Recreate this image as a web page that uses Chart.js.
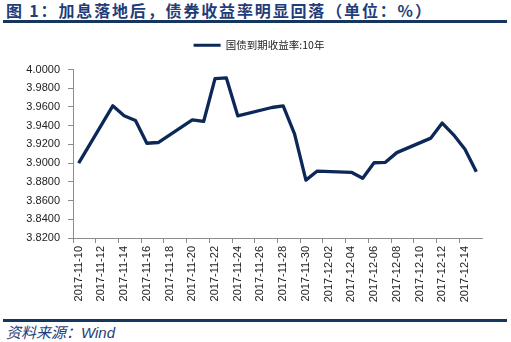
<!DOCTYPE html>
<html lang="zh">
<head>
<meta charset="UTF-8" />
<title>债券收益率</title>
<script src="https://cdn.jsdelivr.net/npm/chart.js@4.4.0/dist/chart.umd.min.js"></script>
<style>
  *{box-sizing:border-box;margin:0;padding:0}
  body{width:511px;height:342px;background:#fff;position:relative;overflow:hidden;font-family:'Liberation Sans',Arial,sans-serif}
  #title{position:absolute;left:6px;top:0px;font:bold 16px 'Noto Sans CJK SC',sans-serif;letter-spacing:1.85px;color:#1f3d7a;white-space:nowrap;line-height:20px}
  .rule{position:absolute;left:3px;width:504px;height:3px;background:#17365d}
  #src{position:absolute;left:6px;top:323px;font:italic 15px 'Noto Sans CJK SC',sans-serif;color:#1f3d7a;line-height:18px}
  #src span{font-family:'Liberation Sans',Arial,sans-serif;font-size:15px}
  #wrap{position:absolute;left:0;top:28px;width:511px;height:285px}
</style>
</head>
<body>
<div id="title">图 1：加息落地后，债券收益率明显回落（单位：%）</div>
<div class="rule" style="top:20px"></div>
<div id="wrap"><canvas id="c" width="511" height="285"></canvas></div>
<div class="rule" style="top:319px"></div>
<div id="src">资料来源：<span>Wind</span></div>
<script>
/* categories: every calendar day on the axis */
const days=['2017-11-10','2017-11-11','2017-11-12','2017-11-13','2017-11-14','2017-11-15','2017-11-16','2017-11-17','2017-11-18','2017-11-19',
  '2017-11-20','2017-11-21','2017-11-22','2017-11-23','2017-11-24','2017-11-25','2017-11-26','2017-11-27','2017-11-28','2017-11-29',
  '2017-11-30','2017-12-01','2017-12-02','2017-12-03','2017-12-04','2017-12-05','2017-12-06','2017-12-07','2017-12-08','2017-12-09',
  '2017-12-10','2017-12-11','2017-12-12','2017-12-13','2017-12-14','2017-12-15'];
/* trading days and 10y CGB yield (%) */
const tradeDates=['2017-11-10','2017-11-13','2017-11-14','2017-11-15','2017-11-16','2017-11-17','2017-11-20','2017-11-21','2017-11-22','2017-11-23',
  '2017-11-24','2017-11-27','2017-11-28','2017-11-29','2017-11-30','2017-12-01','2017-12-04','2017-12-05','2017-12-06','2017-12-07',
  '2017-12-08','2017-12-11','2017-12-12','2017-12-13','2017-12-14','2017-12-15'];
const yields=[3.9000,3.9612,3.9505,3.9456,3.9212,3.9220,3.9462,3.9445,3.9902,3.9910,
  3.9505,3.9594,3.9612,3.9312,3.8818,3.8915,3.8902,3.8838,3.9004,3.9008,
  3.9112,3.9267,3.9428,3.9302,3.9149,3.8908];
const yTicks=[3.82,3.84,3.86,3.88,3.90,3.92,3.94,3.96,3.98,4.00];
const seriesName='国债到期收益率:10年';

const navy='#0c2858',axisGrey='#8c8c8c';
// extra gap under the legend, and nudge it right
const legendFix={id:'legendFix',
  beforeInit(ch){const f=ch.legend.fit;ch.legend.fit=function(){f.call(this);this.height+=9}},
  afterLayout(ch){ch.legend.left+=18;ch.legend.right+=18}};

new Chart('c',{type:'line',
  data:{labels:days,datasets:[{label:seriesName,data:tradeDates.map((d,i)=>({x:d,y:yields[i]})),
    borderColor:navy,backgroundColor:navy,borderWidth:3.3,pointRadius:0,tension:0,borderJoinStyle:'round'}]},
  plugins:[legendFix],
  options:{responsive:false,animation:false,
    layout:{padding:{top:2,right:29,left:0,bottom:0}},
    plugins:{tooltip:{enabled:false},
      legend:{position:'top',labels:{boxWidth:27,boxHeight:3,padding:10,color:'#222',font:{family:"'Noto Sans CJK SC',sans-serif",size:10.5},
        generateLabels:ch=>Chart.defaults.plugins.legend.labels.generateLabels(ch).map(l=>({...l,lineWidth:0}))}}},
    scales:{
      x:{type:'category',offset:true,
        grid:{offset:true,drawOnChartArea:false,tickLength:5,color:c=>c.index%2===0?axisGrey:'rgba(0,0,0,0)'},
        border:{color:axisGrey,width:1},
        ticks:{autoSkip:false,minRotation:90,maxRotation:90,padding:3,color:'#222',font:{family:"'Liberation Sans',Arial",size:11},
          callback:function(v,i){return i%2===0?this.getLabelForValue(v):''}},
        afterFit:s=>{s.height=75}},
      y:{min:3.82,max:4.0,
        afterBuildTicks:s=>{s.ticks=yTicks.map(v=>({value:v}))},
        grid:{drawOnChartArea:false,tickLength:5,color:axisGrey},
        border:{color:axisGrey,width:1},
        ticks:{padding:8,color:'#222',font:{family:"'Liberation Sans',Arial",size:11},callback:v=>Number(v).toFixed(4)},
        afterFit:s=>{s.width=73}}
    }}});
</script>
</body>
</html>
